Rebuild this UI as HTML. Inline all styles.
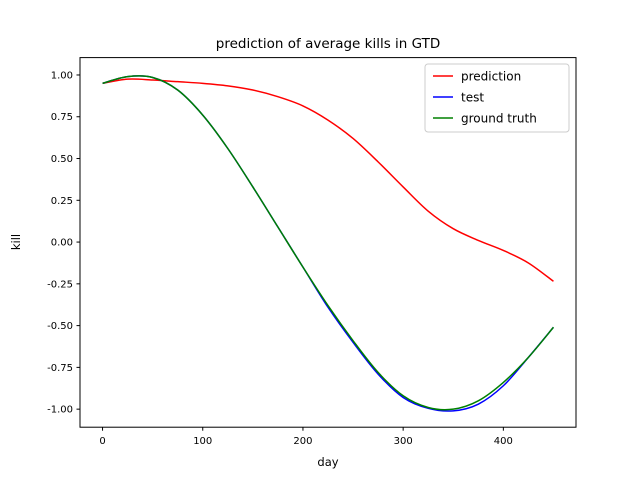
<!DOCTYPE html>
<html><head><meta charset="utf-8"><style>
body{margin:0;background:#fff}
svg text{font-family:"DejaVu Sans","Liberation Sans",sans-serif;fill:#000}
</style></head><body>
<svg id="chart" width="640" height="480">
<rect x="0" y="0" width="640" height="480" fill="#fff"/>
<text x="328" y="48" font-size="13.5" text-anchor="middle">prediction of average kills in GTD</text>
<g id="plot"></g>
<rect x="80" y="57.6" width="496" height="369.6" fill="none" stroke="#000" stroke-width="1"/>
<text x="328" y="466" font-size="11.5" text-anchor="middle">day</text>
<text x="0" y="0" font-size="11.5" text-anchor="middle" transform="translate(20,242) rotate(-90)">kill</text>
<g>
<rect x="425" y="64" width="144" height="68" rx="3" fill="#fff" fill-opacity="0.8" stroke="#ccc"/>
<line x1="433" y1="76" x2="453" y2="76" stroke="red" stroke-width="1.5"/>
<text x="461" y="80.5" font-size="12">prediction</text>
<line x1="433" y1="97" x2="453" y2="97" stroke="blue" stroke-width="1.5"/>
<text x="461" y="101.5" font-size="12">test</text>
<line x1="433" y1="118" x2="453" y2="118" stroke="green" stroke-width="1.5"/>
<text x="461" y="122.5" font-size="12">ground truth</text>
</g>
</svg>
<script>
const days = [0,25,50,75,100,125,150,175,200,225,250,275,300,325,350,375,400,425,450];
const prediction = [0.95,0.975,0.97,0.96,0.95,0.935,0.91,0.87,0.815,0.73,0.62,0.48,0.33,0.185,0.08,0.01,-0.05,-0.125,-0.235];
const testVals = [0.95,0.99,0.985,0.91,0.76,0.56,0.33,0.09,-0.15,-0.39,-0.60,-0.79,-0.93,-0.995,-1.01,-0.97,-0.86,-0.69,-0.51];
const truth = [0.95,0.99,0.985,0.91,0.76,0.56,0.33,0.09,-0.15,-0.38,-0.59,-0.78,-0.92,-0.99,-1.00,-0.95,-0.84,-0.69,-0.51];
const xTicks = [0,100,200,300,400];
const yTicks = [1.00,0.75,0.50,0.25,0.00,-0.25,-0.50,-0.75,-1.00];

const X0=80,X1=576,Y0=57.6,Y1=427.2;
const xMin=-22.5,xMax=472.5,yMin=-1.108,yMax=1.104;
const sx=v=>X0+(v-xMin)/(xMax-xMin)*(X1-X0);
const sy=v=>Y1-(v-yMin)/(yMax-yMin)*(Y1-Y0);
const NS="http://www.w3.org/2000/svg";
const g=document.getElementById('plot');
function mk(t,a){const e=document.createElementNS(NS,t);for(const k in a)e.setAttribute(k,a[k]);g.appendChild(e);return e;}

xTicks.forEach(v=>{
  const l=mk('line',{x1:sx(v),x2:sx(v),y1:Y1,y2:Y1+3.5,stroke:'#000'});
  
  
  const t=mk('text',{x:sx(v),y:Y1+17,'font-size':10,'text-anchor':'middle'});
  t.textContent=v;
  
  
});
yTicks.forEach(v=>{
  const l=mk('line',{x1:X0-3.5,x2:X0,y1:sy(v),y2:sy(v),stroke:'#000'});
  
  
  const t=mk('text',{x:X0-7,y:sy(v)+3.5,'font-size':10,'text-anchor':'end'});
  t.textContent=v.toFixed(2);
  
  
});

function path(ys){
  const p=days.map((d,i)=>[sx(d),sy(ys[i])]);
  let s=`M${p[0][0]},${p[0][1]}`;
  for(let i=0;i<p.length-1;i++){
    const a=p[Math.max(i-1,0)],b=p[i],c=p[i+1],d=p[Math.min(i+2,p.length-1)];
    s+=` C${b[0]+(c[0]-a[0])/6},${b[1]+(c[1]-a[1])/6} ${c[0]-(d[0]-b[0])/6},${c[1]-(d[1]-b[1])/6} ${c[0]},${c[1]}`;
  }
  return s;
}
const pl=mk('path',{d:path(prediction),fill:'none',stroke:'red','stroke-width':1.5});


const tl=mk('path',{d:path(testVals),fill:'none',stroke:'blue','stroke-width':1.5});


const gl=mk('path',{d:path(truth),fill:'none',stroke:'green','stroke-width':1.5});


</script>
</body></html>
